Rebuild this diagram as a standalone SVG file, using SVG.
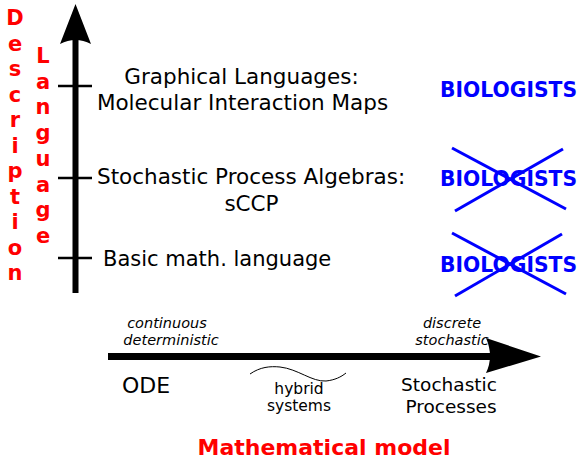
<svg xmlns="http://www.w3.org/2000/svg" width="581" height="461" viewBox="0 0 581 461">
<style>
.t{font-family:"DejaVu Sans","Liberation Sans",sans-serif;fill:#000}
.lv{font-size:21.5px}
.red{font-family:"DejaVu Sans","Liberation Sans",sans-serif;font-weight:bold;fill:#f00;font-size:21px;text-anchor:middle}
.bio{font-family:"DejaVu Sans","Liberation Sans",sans-serif;font-weight:bold;fill:#00f;font-size:20.5px}
.it{font-family:"DejaVu Sans","Liberation Sans",sans-serif;font-style:italic;font-size:14.5px;text-anchor:middle}
.x{stroke:#00f;stroke-width:3;fill:none}
.tick{stroke:#000;stroke-width:2.5}
</style>
<g id="axis-labels">
<text class="red" x="15"><tspan x="15" y="25">D</tspan><tspan x="15" y="50.5">e</tspan><tspan x="15" y="76">s</tspan><tspan x="15" y="101.5">c</tspan><tspan x="15" y="127">r</tspan><tspan x="15" y="152.5">i</tspan><tspan x="15" y="178">p</tspan><tspan x="15" y="203.5">t</tspan><tspan x="15" y="229">i</tspan><tspan x="15" y="254.5">o</tspan><tspan x="15" y="280">n</tspan></text>
<text class="red" x="43"><tspan x="43" y="63">L</tspan><tspan x="43" y="88.7">a</tspan><tspan x="43" y="114.4">n</tspan><tspan x="43" y="140">g</tspan><tspan x="43" y="165.8">u</tspan><tspan x="43" y="191.5">a</tspan><tspan x="43" y="217.2">g</tspan><tspan x="43" y="243">e</tspan></text>
<text class="red" x="324" y="455" style="font-size:22px">Mathematical model</text>
</g>
<g id="connectors">
<path d="M72.5,40 V293 H78.5 V40 Z" fill="#000"/>
<path d="M75.5,4 L91,44 Q75.5,36 60,44 Z" fill="#000"/>
<line class="tick" x1="58" y1="86" x2="92" y2="86"/>
<line class="tick" x1="58" y1="178" x2="92" y2="178"/>
<line class="tick" x1="58" y1="258" x2="92" y2="258"/>
<path d="M108,353 H492 V360 H108 Z" fill="#000"/>
<path d="M541,356.5 L486,338 Q494,356.5 486,373 Z" fill="#000"/>
<path d="M250,374 C260,367 270,366 280,367 C298,369 312,382 326,381 C335,380 341,377 346,373" fill="none" stroke="#000" stroke-width="1"/>
</g>
<g id="level-graphical">
<text class="t lv" x="241.5" y="84" text-anchor="middle">Graphical Languages:</text>
<text class="t lv" x="242.5" y="110" text-anchor="middle">Molecular Interaction Maps</text>
</g>
<g id="level-sccp">
<text class="t lv" x="97" y="184">Stochastic Process Algebras:</text>
<text class="t lv" x="251.5" y="211" text-anchor="middle">sCCP</text>
</g>
<g id="level-basic">
<text class="t" x="103" y="266" font-size="21">Basic math. language</text>
</g>
<g id="biologists-1"><text class="bio" x="440" y="97" textLength="137" lengthAdjust="spacingAndGlyphs">BIOLOGISTS</text></g>
<g id="biologists-2"><text class="bio" x="440" y="186" textLength="137" lengthAdjust="spacingAndGlyphs">BIOLOGISTS</text>
<line class="x" x1="452" y1="148" x2="566" y2="209"/><line class="x" x1="455" y1="211" x2="563" y2="149"/></g>
<g id="biologists-3"><text class="bio" x="440" y="272" textLength="137" lengthAdjust="spacingAndGlyphs">BIOLOGISTS</text>
<line class="x" x1="452" y1="233" x2="566" y2="294"/><line class="x" x1="455" y1="296" x2="562" y2="234"/></g>
<g id="model-labels">
<text class="it" x="167" y="328">continuous</text>
<text class="it" x="171" y="345">deterministic</text>
<text class="it" x="452" y="328">discrete</text>
<text class="it" x="452" y="345">stochastic</text>
<text class="t" x="122" y="393" font-size="22">ODE</text>
<text class="t" x="299" y="394" font-size="15.5" text-anchor="middle">hybrid</text>
<text class="t" x="299" y="411" font-size="15.5" text-anchor="middle">systems</text>
<text class="t" x="449" y="391" font-size="18.5" text-anchor="middle">Stochastic</text>
<text class="t" x="451" y="413" font-size="18.5" text-anchor="middle">Processes</text>
</g>
</svg>
